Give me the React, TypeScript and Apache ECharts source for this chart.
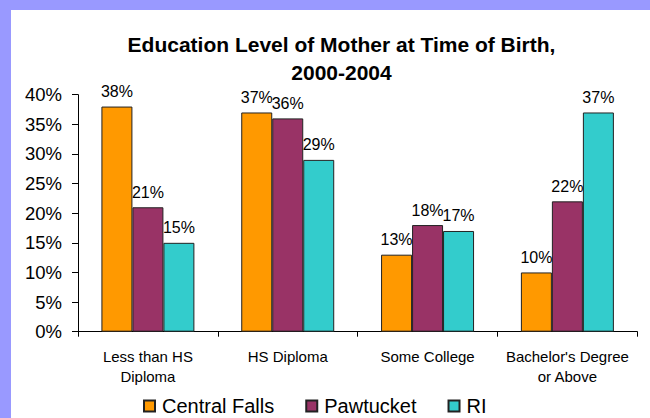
import React, { useEffect, useRef } from "react";
import * as echarts from "echarts";

const categories = ["Less than HS\nDiploma", "HS Diploma", "Some College", "Bachelor's Degree\nor Above"];
const centralFalls = [38, 37, 13, 10];
const pawtucket = [21, 36, 18, 22];
const ri = [15, 29, 17, 37];
const seriesNames = ["Central Falls", "Pawtucket", "RI"];
const seriesColors = ["#FF9900", "#993366", "#33CCCC"];

const FONT = "'Liberation Sans', Arial, sans-serif";

export default function App() {
  const ref = useRef<HTMLDivElement>(null);
  useEffect(() => {
    if (!ref.current) return;
    const chart = echarts.init(ref.current, undefined, { renderer: "svg" });
    const mk = (name: string, data: number[], color: string) => ({
      name,
      type: "bar",
      data,
      barGap: "0%",
      barCategoryGap: "33.5%",
      itemStyle: { color, borderColor: "#222", borderWidth: 1 },
      label: {
        show: true,
        position: "top",
        distance: 7,
        formatter: "{c}%",
        color: "#000",
        fontSize: 16,
        fontFamily: FONT,
      },
    });
    chart.setOption({
      animation: false,
      backgroundColor: "#FFFFFF",
      textStyle: { fontFamily: FONT },
      title: {
        text: "Education Level of Mother at Time of Birth,\n2000-2004",
        left: 341.5,
        textAlign: "center",
        top: 30,
        padding: 0,
        textStyle: {
          fontFamily: FONT,
          fontSize: 21,
          fontWeight: "bold",
          lineHeight: 28,
          color: "#000",
        },
      },
      legend: {
        data: seriesNames,
        left: 138,
        top: 391,
        icon: "rect",
        itemWidth: 11,
        itemHeight: 11,
        itemGap: 31,
        textStyle: { fontFamily: FONT, fontSize: 20, color: "#000", padding: [0, 0, 0, 2] },
      },
      grid: { left: 78, right: 12.7, top: 94.7, bottom: 86.3, containLabel: false },
      xAxis: {
        type: "category",
        data: categories,
        axisLine: { lineStyle: { color: "#000", width: 1 } },
        axisTick: { show: true, length: 5, lineStyle: { color: "#000" } },
        axisLabel: {
          interval: 0,
          margin: 15,
          fontSize: 15,
          lineHeight: 20,
          color: "#000",
          fontFamily: FONT,
        },
      },
      yAxis: {
        type: "value",
        min: 0,
        max: 40,
        interval: 5,
        axisLine: { show: true, lineStyle: { color: "#000", width: 1 } },
        axisTick: { show: true, length: 6, lineStyle: { color: "#000" } },
        splitLine: { show: false },
        axisLabel: {
          formatter: "{value}%",
          margin: 16,
          fontSize: 18.5,
          color: "#000",
          fontFamily: FONT,
        },
      },
      graphic: [
        { type: "rect", left: 0, top: 0, shape: { width: 11, height: 418 }, style: { fill: "#9999FF" } },
        { type: "rect", left: 0, top: 0, shape: { width: 650, height: 10 }, style: { fill: "#9999FF" } },
      ],
      series: [
        mk(seriesNames[0], centralFalls, seriesColors[0]),
        mk(seriesNames[1], pawtucket, seriesColors[1]),
        mk(seriesNames[2], ri, seriesColors[2]),
      ],
    });
    return () => chart.dispose();
  }, []);
  return (
    <div
      ref={ref}
      style={{ position: "absolute", left: 0, top: 0, width: 650, height: 418 }}
    />
  );
}
